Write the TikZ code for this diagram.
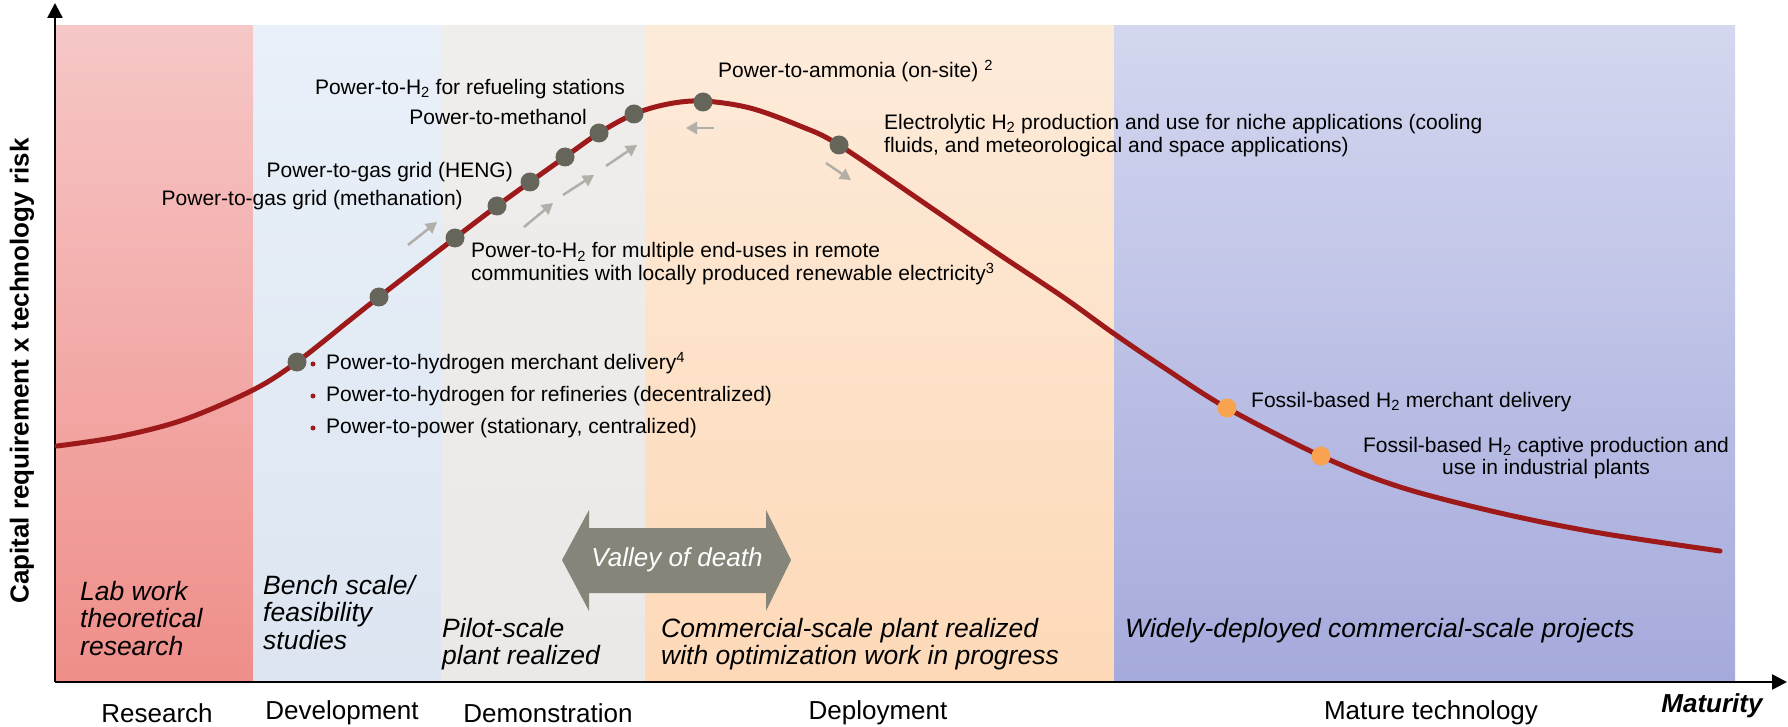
\documentclass[tikz,border=0pt]{standalone}
\usepackage{fontspec}
\setmainfont{Liberation Sans}
\usetikzlibrary{arrows.meta}
\definecolor{curvered}{HTML}{9E1A1A}
\definecolor{dotgray}{HTML}{66655A}
\definecolor{dotorange}{HTML}{F9A24F}
\definecolor{arrgray}{HTML}{B1AFA7}
\definecolor{valleycol}{HTML}{86857A}
\definecolor{resTop}{HTML}{F6C7C7}
\definecolor{resBot}{HTML}{EF8E89}
\definecolor{devTop}{HTML}{E9F0F9}
\definecolor{devBot}{HTML}{DCE5F1}
\definecolor{demTop}{HTML}{EFEEEC}
\definecolor{demBot}{HTML}{EBE9E7}
\definecolor{depTop}{HTML}{FDEBDA}
\definecolor{depBot}{HTML}{FDD9B8}
\definecolor{matTop}{HTML}{D4D7EF}
\definecolor{matBot}{HTML}{A5AADC}
\newcommand{\fsmain}{\fontsize{21}{23}\selectfont}
\newcommand{\fsphase}{\fontsize{26.5}{27.5}\selectfont}
\newcommand{\fsaxis}{\fontsize{26}{28}\selectfont}
\begin{document}
\fsmain
\begin{tikzpicture}[x=1pt,y=-1pt,
  lbl/.style={font=\fsmain, inner sep=0pt},
  phase/.style={font=\fsphase\itshape, align=left, inner sep=0pt, anchor=north west},
  axlbl/.style={font=\fsaxis, inner sep=0pt},
  gdot/.style={circle, fill=dotgray, minimum size=19pt, inner sep=0pt},
  odot/.style={circle, fill=dotorange, minimum size=19pt, inner sep=0pt},
  bdot/.style={circle, fill=curvered, minimum size=5pt, inner sep=0pt},
  garrow/.style={draw=arrgray, line width=2.5pt, -{Triangle[length=11pt,width=12pt]}},
  axisline/.style={draw=black, line width=2.5pt, -{Triangle[length=15pt,width=15pt]}},
  curveline/.style={draw=curvered, line width=5pt, line cap=round}]
\useasboundingbox (0,0) rectangle (1788,727);
% phase panels
\shade[top color=resTop, bottom color=resBot] (55,26) rectangle (253,682);
\shade[top color=devTop, bottom color=devBot] (253,26) rectangle (441,682);
\shade[top color=demTop, bottom color=demBot] (441,26) rectangle (645,682);
\shade[top color=depTop, bottom color=depBot] (645,26) rectangle (1114,682);
\shade[top color=matTop, bottom color=matBot] (1114,26) rectangle (1735,682);
% axes
\coordinate (O) at (55,682);
\coordinate (ytop) at (55,3);
\coordinate (xend) at (1787,682);
\draw[axisline] (O) -- (ytop);
\draw[axisline] (O) -- (xend);
% curve
\draw[curveline] plot[smooth, tension=0.55] coordinates {
 (57,446) (117,437) (183,420) (253,390) (297,362) (350,320) (379,297)
 (455,238) (497,206) (530,182) (565,157) (599,133) (634,114) (668,104)
 (703,101) (750,108) (800,126) (839,145) (930,207) (997,253) (1063,297)
 (1113,333) (1163,367) (1227,408) (1321,456) (1400,487) (1500,513)
 (1600,533) (1720,551)};
% gray arrows
\coordinate (a1s) at (408,245); \coordinate (a1e) at (437,222);
\coordinate (a2s) at (524,227); \coordinate (a2e) at (553,203);
\coordinate (a3s) at (563,195); \coordinate (a3e) at (594,175);
\coordinate (a4s) at (606,166); \coordinate (a4e) at (637,145);
\coordinate (a5s) at (714,128); \coordinate (a5e) at (686,128);
\coordinate (a6s) at (826,163); \coordinate (a6e) at (851,180);
\foreach \i in {1,...,6} \draw[garrow] (a\i s) -- (a\i e);
% dots
\node[gdot] (d1) at (297,362) {};
\node[gdot] (d2) at (379,297) {};
\node[gdot] (d3) at (455,238) {};
\node[gdot] (d4) at (497,206) {};
\node[gdot] (d5) at (530,182) {};
\node[gdot] (d6) at (565,157) {};
\node[gdot] (d7) at (599,133) {};
\node[gdot] (d8) at (634,114) {};
\node[gdot] (d9) at (703,102) {};
\node[gdot] (d10) at (839,145) {};
\node[odot] (o1) at (1227,408) {};
\node[odot] (o2) at (1321,456) {};
% labels near curve
\node[lbl, anchor=mid east] (trefuel) at (625,89) {Power-to-H\textsubscript{2} for refueling stations};
\node[lbl, anchor=mid east] (tmeth) at (587,119) {Power-to-methanol};
\node[lbl, anchor=mid east] (theng) at (513,172) {Power-to-gas grid (HENG)};
\node[lbl, anchor=mid east] (tmethan) at (463,200) {Power-to-gas grid (methanation)};
\node[lbl, anchor=north west, align=left] (tremote) at (471,242.5) {Power-to-H\textsubscript{2} for multiple end-uses in remote\\communities with locally produced renewable electricity\textsuperscript{3}};
\node[bdot] (b1) at (313,364) {};
\node[bdot] (b2) at (313,396) {};
\node[bdot] (b3) at (313,428) {};
\node[lbl, anchor=mid west] (tb1) at (326,364) {Power-to-hydrogen merchant delivery\textsuperscript{4}};
\node[lbl, anchor=mid west] (tb2) at (326,396) {Power-to-hydrogen for refineries (decentralized)};
\node[lbl, anchor=mid west] (tb3) at (326,428) {Power-to-power (stationary, centralized)};
\node[lbl, anchor=mid west] (tammonia) at (718,72) {Power-to-ammonia (on-site) \textsuperscript{2}};
\node[lbl, anchor=north west, align=left, font=\fontsize{21}{23.5}\selectfont] (telec) at (884,114) {Electrolytic H\textsubscript{2} production and use for niche applications (cooling\\fluids, and meteorological and space applications)};
\node[lbl, anchor=mid west] (tfos1) at (1251,402) {Fossil-based H\textsubscript{2} merchant delivery};
\node[lbl, anchor=north, align=center, font=\fontsize{21}{22}\selectfont] (tfos2) at (1546,437) {Fossil-based H\textsubscript{2} captive production and\\use in industrial plants};
% phase labels
\node[phase] (plab) at (80,581) {Lab work\\theoretical\\research};
\node[phase] (pbench) at (263,575) {Bench scale/\\feasibility\\studies};
\node[phase] (ppilot) at (442,618) {Pilot-scale\\plant realized};
\node[phase] (pcomm) at (661,618) {Commercial-scale plant realized\\with optimization work in progress};
\node[phase] (pwide) at (1125,618) {Widely-deployed commercial-scale projects};
% valley of death
\fill[valleycol] (562,560) -- (589,510) -- (589,528) -- (766,528) -- (766,510) -- (791,560)
  -- (766,611) -- (766,593) -- (589,593) -- (589,611) -- cycle;
\node[font=\fsaxis\itshape, text=white, inner sep=0pt] (valley) at (677,560) {Valley of death};
% axis labels
\node[axlbl] (xres) at (157,713) {Research};
\node[axlbl] (xdev) at (342,713) {Development};
\node[axlbl] (xdem) at (548,713) {Demonstration};
\node[axlbl] (xdep) at (878,713) {Deployment};
\node[axlbl] (xmat) at (1431,713) {Mature technology};
\node[axlbl, font=\fsaxis\bfseries\itshape] (xmaturity) at (1712,706) {Maturity};
\node[axlbl, font=\fsaxis\bfseries, rotate=90] (ylab) at (22,371) {Capital requirement x technology risk};
\end{tikzpicture}
\end{document}
